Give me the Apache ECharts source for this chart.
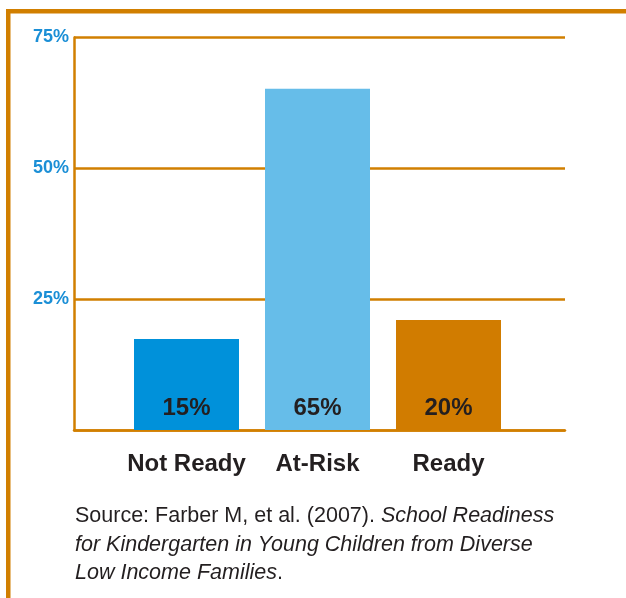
<!DOCTYPE html>
<html>
<head>
<meta charset="utf-8">
<script src="https://cdn.jsdelivr.net/npm/echarts@6/dist/echarts.min.js"></script>
<style>html,body{margin:0;padding:0;background:#fff}#c{width:626px;height:598px}</style>
</head>
<body>
<div id="c"></div>
<script>
const categories = ['Not Ready', 'At-Risk', 'Ready'];
const values = [17.4, 65.2, 21.0];
const valueLabels = ['15%', '65%', '20%'];
const barColors = ['#0091DA', '#66BDE9', '#D17C00'];
const yTicks = [0, 25, 50, 75];

const ORANGE = '#D17F00';
const FONT = 'Liberation Sans, Arial, sans-serif';
const chart = echarts.init(document.getElementById('c'), null, {renderer: 'canvas'});
chart.setOption({
  animation: false,
  backgroundColor: '#fff',
  grid: [
    {left: 74, right: 61, top: 37.5, bottom: 168},
    {left: 121, right: 112, top: 37.5, bottom: 168}
  ],
  xAxis: [
    {gridIndex: 0, type: 'category', data: categories, axisTick: {show: false}, axisLabel: {show: false},
     axisLine: {lineStyle: {color: ORANGE, width: 2.5}}},
    {gridIndex: 1, type: 'category', data: categories, axisTick: {show: false}, axisLine: {show: false},
     axisLabel: {interval: 0, hideOverlap: false, margin: 22, fontSize: 24, fontWeight: 'bold', color: '#231F20', fontFamily: FONT}}
  ],
  yAxis: [
    {gridIndex: 0, type: 'value', min: yTicks[0], max: yTicks[yTicks.length - 1], interval: 25,
     axisLine: {show: true, lineStyle: {color: ORANGE, width: 2.5}}, axisTick: {show: false},
     splitLine: {lineStyle: {color: ORANGE, width: 2.5}},
     axisLabel: {margin: 5, fontSize: 18, fontWeight: 'bold', color: '#1B8FD6', fontFamily: FONT,
       formatter: v => (yTicks.indexOf(v) > 0 ? v + '%' : '')}},
    {gridIndex: 1, type: 'value', min: yTicks[0], max: yTicks[yTicks.length - 1], show: false, splitLine: {show: false}}
  ],
  series: [{
    type: 'bar', xAxisIndex: 1, yAxisIndex: 1, barWidth: 105,
    data: values.map((v, i) => ({value: v, itemStyle: {color: barColors[i]}})),
    label: {show: true, position: 'insideBottom', distance: 10, fontSize: 24, fontWeight: 'bold', color: '#231F20',
      fontFamily: FONT, formatter: p => valueLabels[p.dataIndex]}
  }],
  title: {
    left: 70, top: 497,
    text: '{a|Source: Farber M, et al. (2007). }{b|School Readiness}\n{b|for Kindergarten in Young Children from Diverse}\n{b|Low Income Families}{a|.}',
    textStyle: {
      fontWeight: 'normal',
      rich: {
        a: {fontSize: 21.5, lineHeight: 28.5, fontWeight: 'normal', color: '#231F20', fontFamily: FONT},
        b: {fontSize: 21.5, lineHeight: 28.5, fontWeight: 'normal', color: '#231F20', fontStyle: 'italic', fontFamily: FONT}
      }
    }
  },
  graphic: [
    {type: 'rect', shape: {x: 6, y: 9, width: 620, height: 4.5}, style: {fill: ORANGE}},
    {type: 'rect', shape: {x: 6, y: 9, width: 4.5, height: 589}, style: {fill: ORANGE}}
  ]
});
</script>
</body>
</html>
